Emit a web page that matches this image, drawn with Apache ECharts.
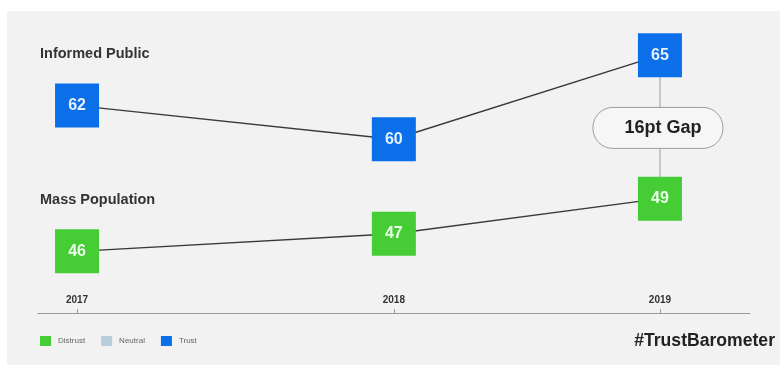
<!DOCTYPE html>
<html><head><meta charset="utf-8">
<script src="https://cdn.jsdelivr.net/npm/echarts@6/dist/echarts.min.js"></script>
<style>html,body{margin:0;padding:0;background:#fff}#c{width:780px;height:366px}</style>
</head><body><div id="c"></div>
<script>
const years = [2017, 2018, 2019];
const yearLabels = ['2017', '2018', '2019'];
// x position of each survey point on the (non-uniform) time axis
const xPos = [2017, 2018.087, 2019];
const informedPublic = [62, 60, 65];
const massPopulation = [46, 47, 49];
const legendNames = ['Distrust', 'Neutral', 'Trust'];

const BLUE = '#0b6fea', GREEN = '#46cc34', NEUTRAL = '#b9cedb';

const chart = echarts.init(document.getElementById('c'));

const gapText = (informedPublic[2] - massPopulation[2]) + 'pt Gap';

chart.setOption({
  animation: false,
  backgroundColor: '#fff',
  graphic: [
    { type: 'rect', shape: { x: 7, y: 11, width: 780, height: 354 }, style: { fill: '#f2f2f2' }, z: -10 },
    { type: 'text', left: 40, top: 46, style: { text: 'Informed Public', font: 'bold 14.5px "Liberation Sans", Arial', fill: '#333' } },
    { type: 'text', left: 40, top: 192, style: { text: 'Mass Population', font: 'bold 14.5px "Liberation Sans", Arial', fill: '#333' } },
    { type: 'text', right: 5, top: 332, style: { text: '#TrustBarometer', font: 'bold 17.6px "Liberation Sans", Arial', fill: '#222' } }
  ],
  legend: {
    left: 35, top: 331, itemWidth: 11, itemHeight: 10, itemGap: 16, icon: 'rect',
    textStyle: { fontSize: 8, color: '#666', fontFamily: '"Liberation Sans", Arial', padding: [0, 0, 0, 2] },
    data: [
      { name: legendNames[0], itemStyle: { color: GREEN, borderWidth: 0 } },
      { name: legendNames[1], itemStyle: { color: NEUTRAL, borderWidth: 0 } },
      { name: legendNames[2], itemStyle: { color: BLUE, borderWidth: 0 } }
    ],
    selectedMode: false
  },
  grid: { left: 38, right: 30, top: 20, bottom: 53 },
  xAxis: {
    type: 'value', min: 2016.866, max: 2019.309,
    splitLine: { show: false },
    axisLine: { show: true, lineStyle: { color: '#9a9a9a', width: 1 } },
    axisTick: { show: true, inside: true, length: 4, lineStyle: { color: '#9a9a9a' }, customValues: xPos },
    axisLabel: {
      inside: true, margin: 8, fontSize: 10, fontWeight: 'bold', color: '#333',
      fontFamily: '"Liberation Sans", Arial', customValues: xPos,
      formatter: v => { const i = xPos.findIndex(p => Math.abs(p - v) < 1e-6); return i >= 0 ? yearLabels[i] : ''; }
    }
  },
  yAxis: [
    { type: 'value', min: 49.67, max: 67.09, show: false, splitLine: { show: false } },
    { type: 'value', min: 42.49, max: 59.17, show: false, splitLine: { show: false } }
  ],
  series: [
    {
      name: 'Gap', type: 'custom', xAxisIndex: 0, yAxisIndex: 0, z: 1,
      data: [[xPos[2], informedPublic[2], massPopulation[2]]],
      renderItem: function (params, api) {
        const top = api.coord([api.value(0), api.value(1)]);
        const bot = chart.convertToPixel({ xAxisIndex: 0, yAxisIndex: 1 }, [api.value(0), api.value(2)]);
        const cx = top[0];
        const midY = (top[1] + bot[1]) / 2;
        const w = 130, h = 41;
        return {
          type: 'group', children: [
            { type: 'line', shape: { x1: cx, y1: top[1], x2: cx, y2: bot[1] }, style: { stroke: '#aaaaaa', lineWidth: 1.2 } },
            { type: 'rect', shape: { x: cx - w / 2 - 2, y: midY - h / 2 + 1, width: w, height: h, r: 20 },
              style: { fill: '#f6f6f6', stroke: '#9c9c9c', lineWidth: 1 } },
            { type: 'text', style: { x: cx + 3, y: midY + 1, text: gapText, align: 'center', verticalAlign: 'middle',
              font: 'bold 18px "Liberation Sans", Arial', fill: '#222' } }
          ]
        };
      }
    },
    {
      name: legendNames[2], type: 'line', yAxisIndex: 0, z: 3,
      data: xPos.map((x, i) => [x, informedPublic[i]]),
      symbol: 'rect', symbolSize: [44, 44],
      itemStyle: { color: BLUE },
      lineStyle: { color: '#3a3a3a', width: 1.4 },
      label: { show: true, position: 'inside', color: '#e6f0ff', fontSize: 16, fontWeight: 'bold', fontFamily: '"Liberation Sans", Arial' }
    },
    {
      name: legendNames[0], type: 'line', yAxisIndex: 1, z: 3,
      data: xPos.map((x, i) => [x, massPopulation[i]]),
      symbol: 'rect', symbolSize: [44, 44],
      itemStyle: { color: GREEN },
      lineStyle: { color: '#3a3a3a', width: 1.4 },
      label: { show: true, position: 'inside', color: '#eaffea', fontSize: 16, fontWeight: 'bold', fontFamily: '"Liberation Sans", Arial' }
    },
    { name: legendNames[1], type: 'line', yAxisIndex: 0, data: [], itemStyle: { color: NEUTRAL } }
  ]
});
</script></body></html>
